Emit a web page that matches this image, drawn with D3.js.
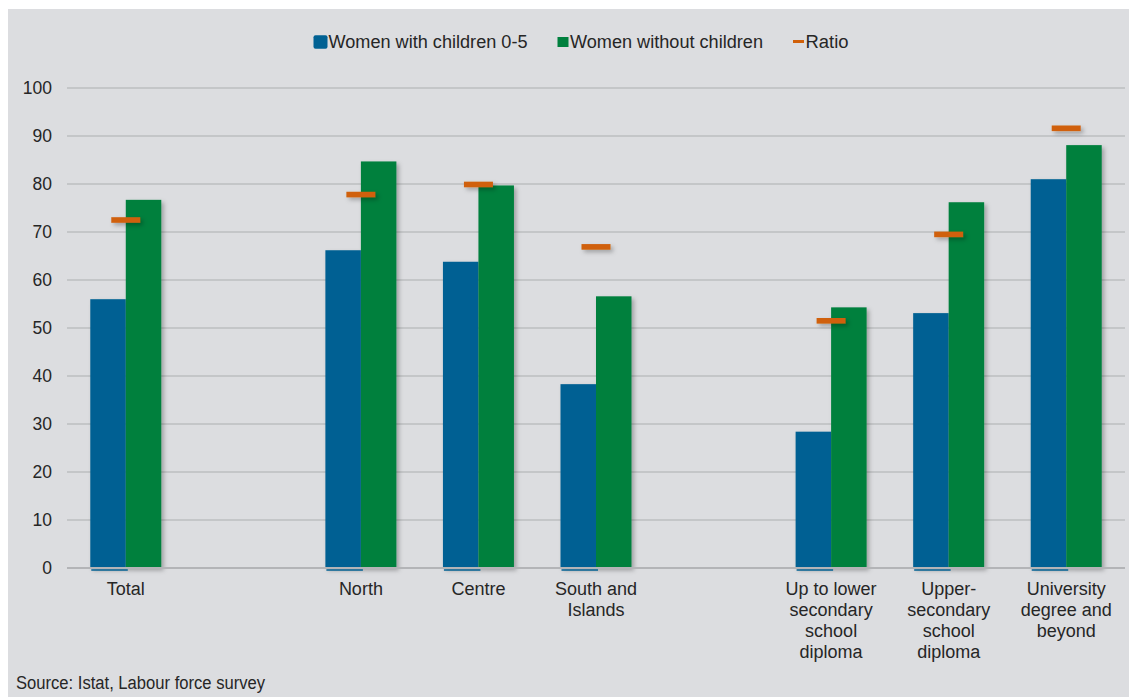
<!DOCTYPE html>
<html>
<head>
<meta charset="utf-8">
<script src="https://cdn.jsdelivr.net/npm/d3@7"></script>
<style>
  html, body { margin: 0; padding: 0; background: #ffffff; }
  svg { display: block; }
  text { font-family: "Liberation Sans", Arial, sans-serif; fill: #262626; }
</style>
</head>
<body>
<svg id="chart" width="1129" height="697"></svg>
<script>
// Categories (empty strings are spacer slots between groups)
const categories = [
  "Total", "", "North", "Centre", "South and Islands", "",
  "Up to lower secondary school diploma",
  "Upper-secondary school diploma",
  "University degree and beyond"
];
const categoryLines = [
  ["Total"], [], ["North"], ["Centre"], ["South and", "Islands"], [],
  ["Up to lower", "secondary", "school", "diploma"],
  ["Upper-", "secondary", "school", "diploma"],
  ["University", "degree and", "beyond"]
];
const withChildren    = [56.0, null, 66.2, 63.8, 38.3, null, 28.4, 53.1, 81.0];
const withoutChildren = [76.7, null, 84.7, 79.7, 56.6, null, 54.3, 76.2, 88.1];
const ratio           = [72.5, null, 77.8, 79.9, 66.9, null, 51.5, 69.5, 91.6];
const yTicks = [0, 10, 20, 30, 40, 50, 60, 70, 80, 90, 100];
const seriesNames = ["Women with children 0-5", "Women without children", "Ratio"];
const colors = { blue: "#006193", green: "#00803e", orange: "#d0600a" };

const svg = d3.select("#chart");
const W = 1129, H = 697;

// Panel background
svg.append("rect").attr("x", 8).attr("y", 9).attr("width", W - 8).attr("height", H - 9)
  .attr("fill", "#dcdde0");

// Soft drop shadow for bars and ratio markers
const defs = svg.append("defs");
const f = defs.append("filter").attr("id", "shadow")
  .attr("x", "-30%").attr("y", "-30%").attr("width", "160%").attr("height", "160%");
f.append("feDropShadow").attr("dx", 2.5).attr("dy", 2.5).attr("stdDeviation", 2.2)
  .attr("flood-color", "#000").attr("flood-opacity", 0.28);

const x = d3.scaleBand().domain(d3.range(categories.length)).range([67, 1125]).padding(0);
const y = d3.scaleLinear().domain([0, 100]).range([568, 88]);

const slot = x.bandwidth();
const barW = slot * 0.302;
const cx = i => x(i) + slot / 2;

// Gridlines
svg.append("g").selectAll("line").data(yTicks.filter(t => t > 0)).join("line")
  .attr("x1", 67).attr("x2", 1125)
  .attr("y1", d => y(d)).attr("y2", d => y(d))
  .attr("stroke", "#bdbec1").attr("stroke-width", 1.3);

// Y axis labels
const yAxis = d3.axisLeft(y).tickValues(yTicks).tickSize(0).tickPadding(0);
const yg = svg.append("g").attr("transform", "translate(52,0)").call(yAxis);
yg.select(".domain").remove();
yg.selectAll("text").style("font-size", "17.5px").attr("fill", "#262626")
  .attr("font-family", "Liberation Sans, Arial, sans-serif");

const idx = d3.range(categories.length).filter(i => withChildren[i] != null);

// Bars
const bars = svg.append("g").attr("filter", "url(#shadow)");
bars.selectAll("rect.blue").data(idx).join("rect").attr("class", "blue")
  .attr("x", i => cx(i) - barW).attr("width", barW)
  .attr("y", i => y(withChildren[i])).attr("height", i => y(0) - y(withChildren[i]))
  .attr("fill", colors.blue);
bars.selectAll("rect.green").data(idx).join("rect").attr("class", "green")
  .attr("x", i => cx(i)).attr("width", barW)
  .attr("y", i => y(withoutChildren[i])).attr("height", i => y(0) - y(withoutChildren[i]))
  .attr("fill", colors.green);

// Baseline
svg.append("line").attr("x1", 67).attr("x2", 1125).attr("y1", y(0)).attr("y2", y(0))
  .attr("stroke", "#b3b4b7").attr("stroke-width", 2);

// Thin blue marks under each group
svg.append("g").selectAll("line").data(idx).join("line")
  .attr("x1", i => cx(i) - barW + 1).attr("x2", i => cx(i) + 2)
  .attr("y1", y(0) + 2).attr("y2", y(0) + 2)
  .attr("stroke", colors.blue).attr("stroke-width", 1.6);

// Ratio markers
svg.append("g").attr("filter", "url(#shadow)").selectAll("rect").data(idx).join("rect")
  .attr("x", i => cx(i) - 14.5).attr("width", 29)
  .attr("y", i => y(ratio[i]) - 2.8).attr("height", 5.6)
  .attr("fill", colors.orange);

// Category labels
const xl = svg.append("g");
idx.forEach(i => {
  const t = xl.append("text").attr("text-anchor", "middle").style("font-size", "18px");
  categoryLines[i].forEach((line, k) => {
    t.append("tspan").attr("x", cx(i)).attr("y", 595 + k * 21).text(line);
  });
});

// Legend
const lg = svg.append("g").style("font-size", "18px");
lg.append("rect").attr("x", 313.5).attr("y", 35.3).attr("width", 14).attr("height", 13.4)
  .attr("rx", 2).attr("fill", colors.blue);
lg.append("text").attr("x", 328.5).attr("y", 48).attr("textLength", 199)
  .attr("lengthAdjust", "spacingAndGlyphs").text(seriesNames[0]);
lg.append("rect").attr("x", 557.5).attr("y", 37).attr("width", 11).attr("height", 10)
  .attr("fill", colors.green);
lg.append("text").attr("x", 570).attr("y", 48).attr("textLength", 193)
  .attr("lengthAdjust", "spacingAndGlyphs").text(seriesNames[1]);
lg.append("rect").attr("x", 793).attr("y", 40).attr("width", 11).attr("height", 3)
  .attr("fill", colors.orange);
lg.append("text").attr("x", 805.5).attr("y", 48).attr("textLength", 43)
  .attr("lengthAdjust", "spacingAndGlyphs").text(seriesNames[2]);

// Source note
svg.append("text").attr("x", 16).attr("y", 689).style("font-size", "18px")
  .attr("textLength", 249).attr("lengthAdjust", "spacingAndGlyphs")
  .text("Source: Istat, Labour force survey");
</script>
</body>
</html>
